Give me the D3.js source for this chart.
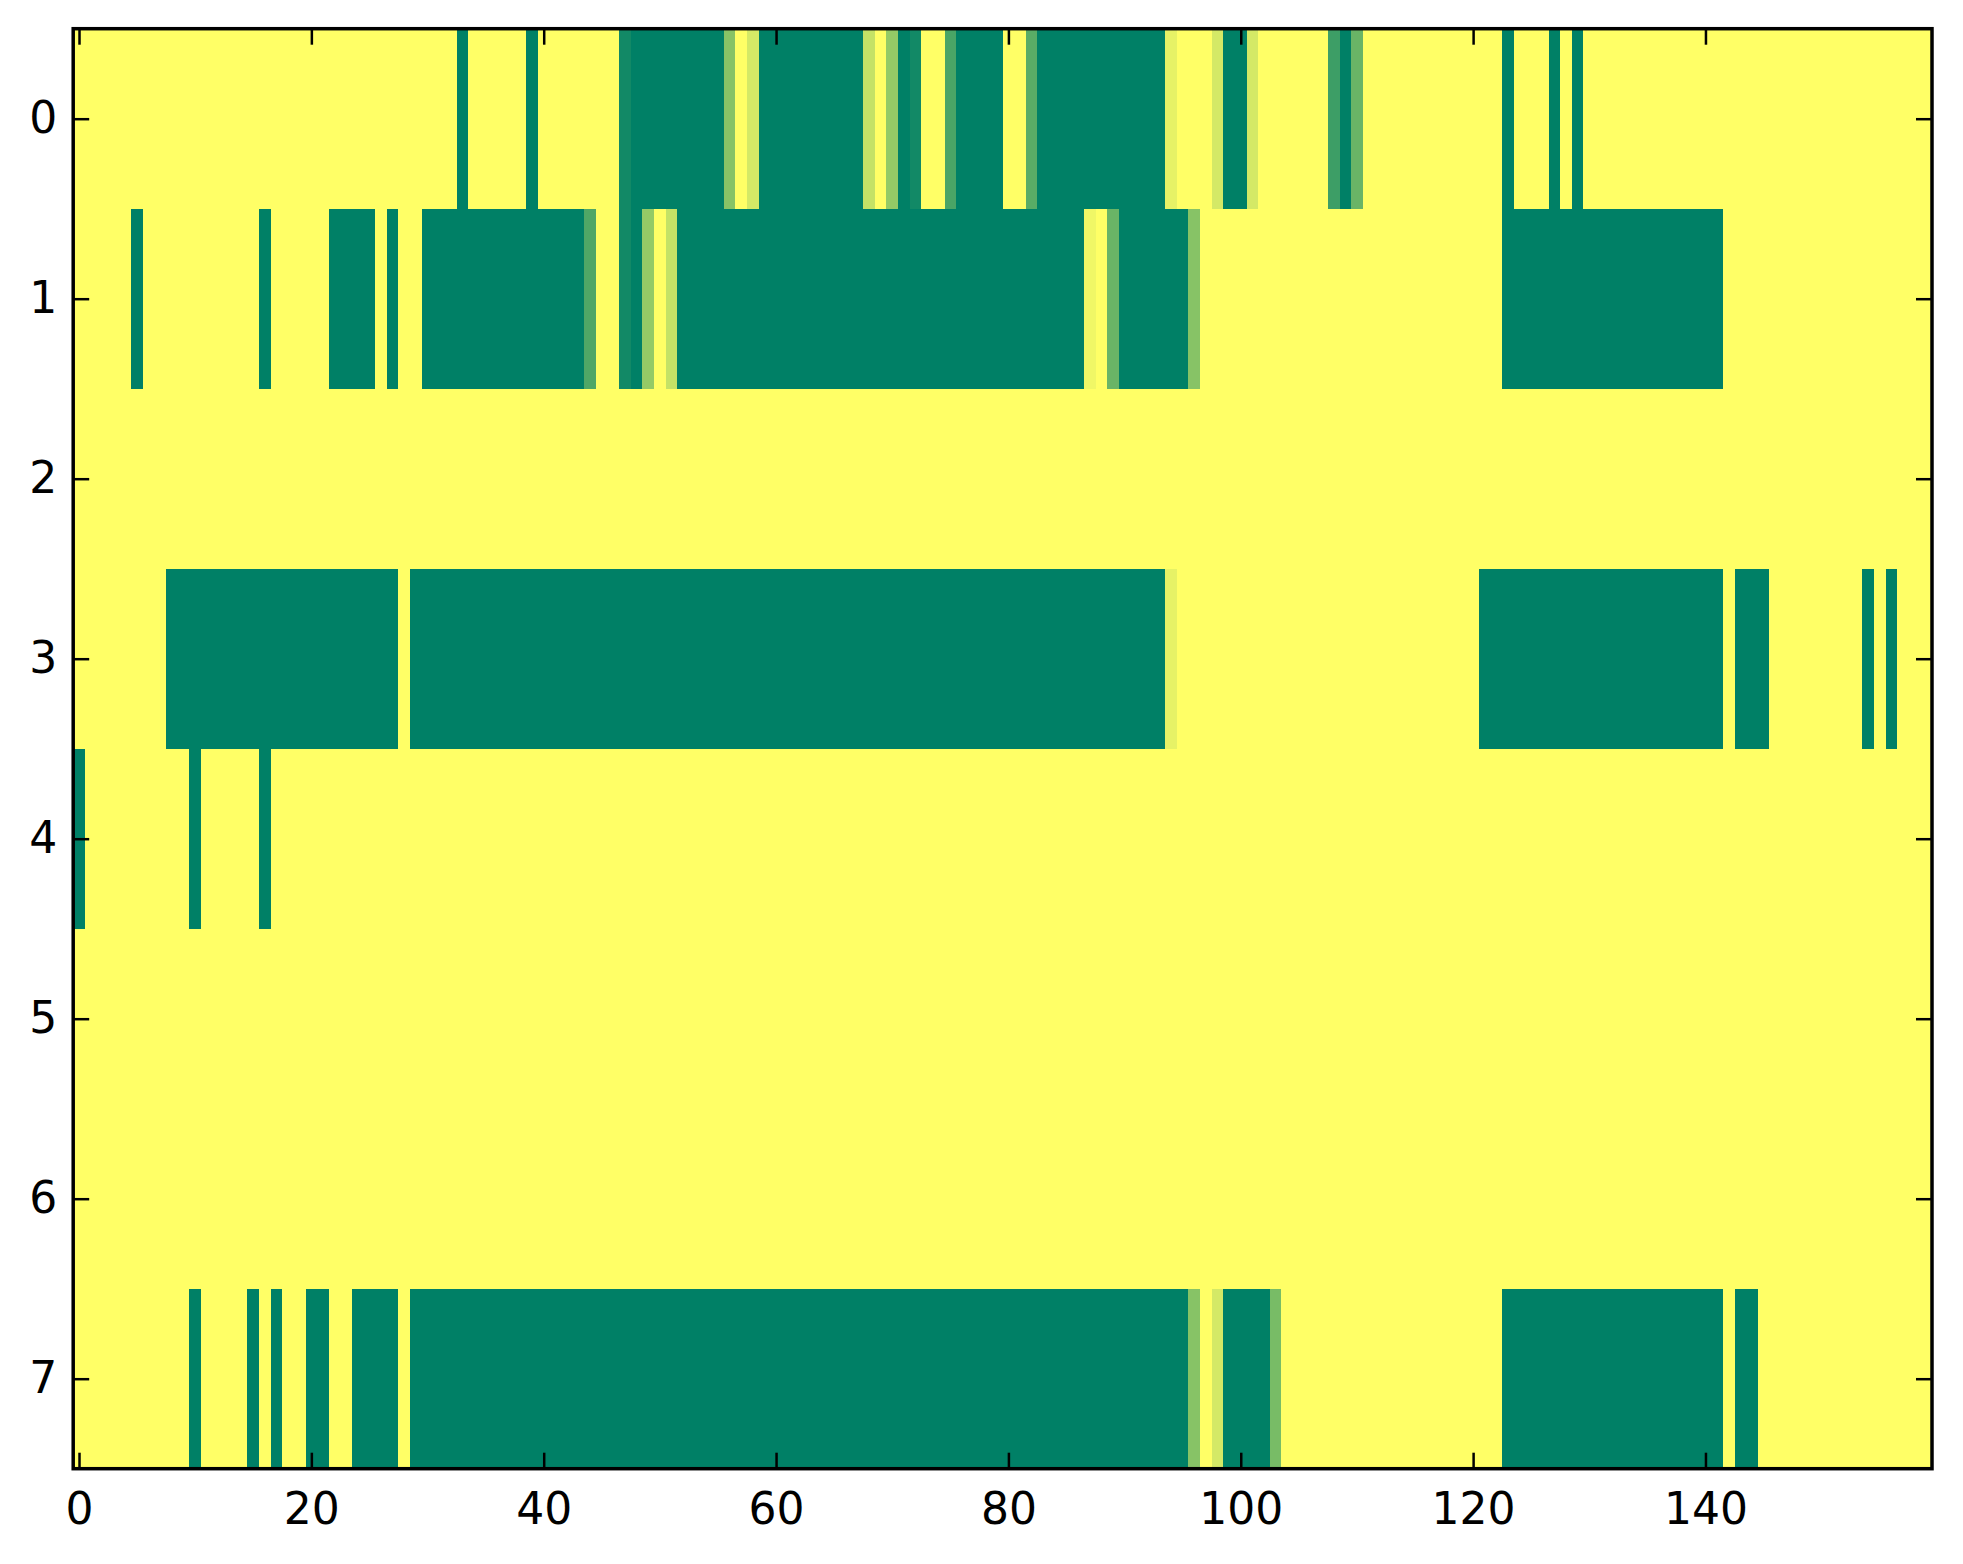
<!DOCTYPE html>
<html>
<head>
<meta charset="utf-8">
<script src="https://cdn.jsdelivr.net/npm/d3@7"></script>
<style>
  body { margin: 0; background: #fff; }
  text { font-family: "DejaVu Sans", sans-serif; }
</style>
</head>
<body>
<div id="vis"></div>
<script>
// data
const nCols = 160;
const rowLabels = [0, 1, 2, 3, 4, 5, 6, 7];
const xTicks = [0, 20, 40, 60, 80, 100, 120, 140];

// non-zero runs per row: [first column, last column, value]
const row0 = [[33, 33, 1], [39, 39, 1], [47, 47, 0.93], [48, 55, 1], [56, 56, 0.47], [58, 58, 0.17],
  [59, 67, 1], [68, 68, 0.23], [70, 70, 0.42], [71, 71, 1], [72, 72, 0.93], [75, 75, 0.71],
  [76, 79, 1], [82, 82, 0.65], [83, 93, 1], [94, 94, 0.1], [98, 98, 0.17], [99, 100, 1],
  [101, 101, 0.17], [108, 108, 0.76], [109, 109, 1], [110, 110, 0.59], [123, 123, 1],
  [127, 127, 1], [129, 129, 1]];
const row1 = [[5, 5, 1], [16, 16, 1], [22, 25, 1], [27, 27, 1], [30, 43, 1], [44, 44, 0.69],
  [47, 47, 0.93], [48, 48, 1], [49, 49, 0.42], [51, 51, 0.23], [52, 86, 1], [87, 87, 0.06],
  [89, 89, 0.59], [90, 95, 1], [96, 96, 0.47], [123, 141, 1]];
const row2 = [];
const row3 = [[8, 27, 1], [29, 93, 1], [94, 94, 0.1], [121, 141, 1], [143, 145, 1],
  [154, 154, 1], [156, 156, 1]];
const row4 = [[0, 0, 1], [10, 10, 1], [16, 16, 1]];
const row5 = [];
const row6 = [];
const row7 = [[10, 10, 1], [15, 15, 1], [17, 17, 1], [20, 21, 1], [24, 27, 1], [29, 95, 1],
  [96, 96, 0.47], [98, 98, 0.17], [99, 102, 1], [103, 103, 0.53], [123, 141, 1], [143, 144, 1]];

const rows = [row0, row1, row2, row3, row4, row5, row6, row7];

// expand runs into cells
const cells = [];
rows.forEach((runs, r) => {
  const vals = new Array(nCols).fill(0);
  runs.forEach(([a, b, v]) => { for (let c = a; c <= b; c++) vals[c] = v; });
  vals.forEach((v, c) => cells.push({ row: r, col: c, value: v }));
});

// margin
const W = 1963, H = 1564;
const margin = { top: 28.7, right: 31, bottom: 95.3, left: 73.2 };
const width = W - margin.left - margin.right;
const height = H - margin.top - margin.bottom;

// svg
const svg = d3.select('#vis')
  .append('svg')
  .attr('width', W)
  .attr('height', H)
  .append('g')
  .attr('transform', `translate(${margin.left},${margin.top})`);

// scales
const xScale = d3.scaleLinear()
  .domain([-0.5, nCols - 0.5])
  .range([0, width]);

const yScale = d3.scaleLinear()
  .domain([-0.5, rowLabels.length - 0.5])
  .range([0, height]);

// summer_r colormap
const color = d3.scaleLinear()
  .domain([0, 1])
  .range(['#ffff66', '#008066']);

// cells
svg.selectAll('.cell')
  .data(cells)
  .join('rect')
  .attr('class', 'cell')
  .attr('x', d => xScale(d.col - 0.5))
  .attr('y', d => yScale(d.row - 0.5))
  .attr('width', xScale(1) - xScale(0) + 0.4)
  .attr('height', yScale(1) - yScale(0) + 0.4)
  .attr('fill', d => color(d.value))
  .attr('shape-rendering', 'crispEdges');

// axes
const tickLen = 16;
const fontSize = 44;

function styleAxis(g) {
  g.select('.domain').remove();
  g.selectAll('.tick line').attr('stroke', '#000').attr('stroke-width', 2.5);
  g.selectAll('.tick text').attr('font-size', fontSize).attr('fill', '#000');
}

svg.append('g')
  .attr('transform', `translate(0,${height})`)
  .call(d3.axisBottom(xScale).tickValues(xTicks).tickSizeInner(-tickLen).tickSizeOuter(0).tickPadding(24))
  .call(styleAxis);

svg.append('g')
  .call(d3.axisTop(xScale).tickValues(xTicks).tickSizeInner(-tickLen).tickSizeOuter(0).tickFormat(''))
  .call(styleAxis);

svg.append('g')
  .call(d3.axisLeft(yScale).tickValues(rowLabels).tickSizeInner(-tickLen).tickSizeOuter(0).tickPadding(16))
  .call(styleAxis);

svg.append('g')
  .attr('transform', `translate(${width},0)`)
  .call(d3.axisRight(yScale).tickValues(rowLabels).tickSizeInner(-tickLen).tickSizeOuter(0).tickFormat(''))
  .call(styleAxis);

// frame
svg.append('rect')
  .attr('width', width)
  .attr('height', height)
  .attr('fill', 'none')
  .attr('stroke', '#000')
  .attr('stroke-width', 3.5);
</script>
</body>
</html>
